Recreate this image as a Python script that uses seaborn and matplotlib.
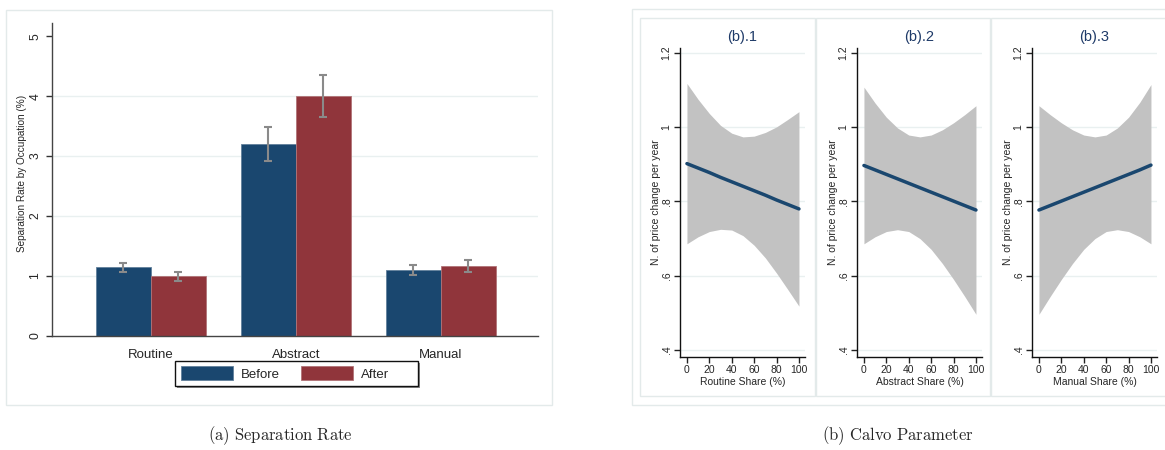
import numpy as np
import pandas as pd
import matplotlib
matplotlib.use("Agg")
import matplotlib.pyplot as plt
import seaborn as sns
from matplotlib.patches import Rectangle, Patch

# ---- separation rate by occupation ----
occupations = ["Routine", "Abstract", "Manual"]
periods = ["Before", "After"]
sep_before = [1.15, 3.20, 1.10]
sep_after = [1.00, 4.00, 1.17]
before_low = [1.06, 2.92, 1.01]
before_high = [1.22, 3.48, 1.18]
after_low = [0.92, 3.65, 1.06]
after_high = [1.06, 4.35, 1.27]

# ---- Calvo parameter vs. occupational share ----
share = [0, 10, 20, 30, 40, 50, 60, 70, 80, 90, 100]
routine_fit = [0.902, 0.890, 0.878, 0.865, 0.853, 0.841, 0.829, 0.817, 0.804, 0.792, 0.780]
routine_hi = [1.118, 1.075, 1.037, 1.005, 0.984, 0.974, 0.976, 0.986, 1.001, 1.021, 1.042]
routine_lo = [0.686, 0.705, 0.719, 0.725, 0.723, 0.708, 0.682, 0.648, 0.607, 0.563, 0.518]
abstract_fit = [0.897, 0.885, 0.873, 0.861, 0.849, 0.837, 0.825, 0.813, 0.801, 0.789, 0.777]
abstract_hi = [1.108, 1.065, 1.027, 0.998, 0.979, 0.974, 0.979, 0.993, 1.012, 1.034, 1.058]
abstract_lo = [0.686, 0.705, 0.719, 0.724, 0.719, 0.700, 0.671, 0.633, 0.590, 0.544, 0.496]
manual_fit = [0.777, 0.789, 0.801, 0.813, 0.825, 0.837, 0.849, 0.861, 0.873, 0.885, 0.898]
manual_hi = [1.058, 1.034, 1.012, 0.993, 0.979, 0.974, 0.979, 0.998, 1.027, 1.067, 1.115]
manual_lo = [0.496, 0.544, 0.590, 0.633, 0.671, 0.700, 0.719, 0.724, 0.719, 0.705, 0.686]

panel_titles = ["(b).1", "(b).2", "(b).3"]
share_labels = ["Routine Share (%)", "Abstract Share (%)", "Manual Share (%)"]
calvo_ticks = [0.4, 0.6, 0.8, 1.0, 1.2]
calvo_ticklabels = [".4", ".6", ".8", "1", "1.2"]

NAVY = "#1a476f"
MAROON = "#90353b"
GRID = "#e9f0f0"
FRAME = "#e3eaea"
CI_GREY = "#c2c2c2"

sns.set_theme(style="white")
plt.rcParams["font.family"] = ["Liberation Sans", "DejaVu Sans"]
plt.rcParams["mathtext.fontset"] = "cm"

W, H = 1165, 450
fig = plt.figure(figsize=(W / 100, H / 100), dpi=100)


def px_axes(x0, y0, x1, y1):
    return fig.add_axes([x0 / W, 1 - y1 / H, (x1 - x0) / W, (y1 - y0) / H])


def px_rect(x0, y0, x1, y1, edge=FRAME, lw=1.0, face="none", z=0):
    fig.patches.append(Rectangle((x0 / W, 1 - y1 / H), (x1 - x0) / W, (y1 - y0) / H,
                                 transform=fig.transFigure, facecolor=face,
                                 edgecolor=edge, linewidth=lw, zorder=z))


# outer graph regions
px_rect(6, 10, 552, 405)
px_rect(632, 9, 1166, 405)
px_rect(640, 18, 815, 396)
px_rect(816, 18, 990, 396)
px_rect(991, 18, 1166, 396)

# ---------------- left: grouped bars ----------------
ax = px_axes(52, 23, 538, 336)
bars = pd.DataFrame({
    "occupation": occupations * 2,
    "period": ["Before"] * 3 + ["After"] * 3,
    "rate": sep_before + sep_after,
})
sns.barplot(data=bars, x="occupation", y="rate", hue="period",
            order=occupations, hue_order=periods,
            palette={"Before": NAVY, "After": MAROON},
            width=0.76, gap=0, saturation=1, errorbar=None, ax=ax,
            linewidth=0.7, edgecolor="none", legend=False)
bar_groups = list(ax.containers)
for cont, col in zip(bar_groups, [NAVY, MAROON]):
    for b in cont:
        b.set_edgecolor(sns.light_palette(col, 4)[2])
        b.set_linewidth(0.6)

lows = [before_low, after_low]
highs = [before_high, after_high]
vals = [sep_before, sep_after]
for k, cont in enumerate(bar_groups):
    xs = [b.get_x() + b.get_width() / 2 for b in cont]
    v = np.array(vals[k])
    yerr = [v - np.array(lows[k]), np.array(highs[k]) - v]
    ax.errorbar(xs, v, yerr=yerr, fmt="none", ecolor="#8a8a8a",
                elinewidth=1.5, capsize=2.6, capthick=1.5, zorder=5)

ax.set_xlim(-0.68, 2.67)
ax.set_ylim(0, 5.22)
ax.set_yticks([0, 1, 2, 3, 4, 5])
ax.set_yticklabels(["0", "1", "2", "3", "4", "5"], rotation=90, va="center")
for g in [1, 2, 3, 4]:
    ax.axhline(g, color=GRID, lw=1.0, zorder=0)
ax.set_xlabel("")
ax.set_ylabel("Separation Rate by Occupation (%)", fontsize=7.2)
ax.yaxis.set_label_coords(-0.052, 0.52)
ax.tick_params(axis="y", which="both", left=True, length=4.5, width=1,
               color="#333333", labelsize=8.7, pad=3)
ax.tick_params(axis="x", bottom=False, labelsize=9.5, pad=3)
for s in ["top", "right"]:
    ax.spines[s].set_visible(False)
for s in ["left", "bottom"]:
    ax.spines[s].set_color("#444444")
    ax.spines[s].set_linewidth(1.0)
ax.set_facecolor("white")

# legend box with a slight drop shadow, entries placed inside it
px_rect(177, 363, 420, 388, edge="none", face="#8a8a8a", z=3)
px_rect(175, 361, 418, 386, edge="#111111", lw=1.0, face="white", z=4)
handles = [Patch(facecolor=NAVY, edgecolor=sns.light_palette(NAVY, 4)[2], lw=0.6),
           Patch(facecolor=MAROON, edgecolor=sns.light_palette(MAROON, 4)[2], lw=0.6)]
leg = fig.legend(handles, periods, loc="center left", ncol=2,
                 bbox_to_anchor=(180.5 / W, 1 - 373.5 / H),
                 fontsize=9.5, frameon=False,
                 handlelength=3.95, handleheight=1.2, handletextpad=0.62,
                 columnspacing=1.6, borderpad=0, borderaxespad=0)
leg.set_zorder(6)

# ---------------- right: three regression panels ----------------
fits = [routine_fit, abstract_fit, manual_fit]
his = [routine_hi, abstract_hi, manual_hi]
los = [routine_lo, abstract_lo, manual_lo]
axis_x = [680, 857, 1032]
for i in range(3):
    a = px_axes(axis_x[i], 48, axis_x[i] + 125, 357)
    a.fill_between(share, los[i], his[i], color=CI_GREY, lw=0, zorder=1)
    line = pd.DataFrame({"share": share, "fit": fits[i]})
    sns.lineplot(data=line, x="share", y="fit", color=NAVY, lw=2.5, ax=a, zorder=3)
    for g in calvo_ticks:
        a.axhline(g, color=GRID, lw=1.0, zorder=0)
    a.set_xlim(-6.2, 105.4)
    a.set_ylim(0.381, 1.2135)
    a.set_xticks([0, 20, 40, 60, 80, 100])
    a.set_xticklabels(["0", "20", "40", "60", "80", "100"])
    a.set_yticks(calvo_ticks)
    a.set_yticklabels(calvo_ticklabels, rotation=90, va="center")
    a.tick_params(axis="both", left=True, bottom=True, length=4, width=1,
                  color="#222222", labelsize=7.5, pad=2)
    a.set_xlabel(share_labels[i], fontsize=7.5, labelpad=1)
    a.set_ylabel("N. of price change per year", fontsize=7.5)
    a.yaxis.set_label_coords(-0.15, 0.5)
    a.set_title(panel_titles[i], fontsize=10.5, color="#1e3a68", pad=5)
    for s in ["top", "right"]:
        a.spines[s].set_visible(False)
    for s in ["left", "bottom"]:
        a.spines[s].set_color("#111111")
        a.spines[s].set_linewidth(1.0)
    a.set_facecolor("white")

# sub-figure captions
fig.text(280 / W, 1 - 436 / H, r"$\mathrm{(a)\ Separation\ Rate}$",
         ha="center", va="center", fontsize=12)
fig.text(898 / W, 1 - 436 / H, r"$\mathrm{(b)\ Calvo\ Parameter}$",
         ha="center", va="center", fontsize=12)

fig.savefig("out.png", dpi=100, facecolor="white")
